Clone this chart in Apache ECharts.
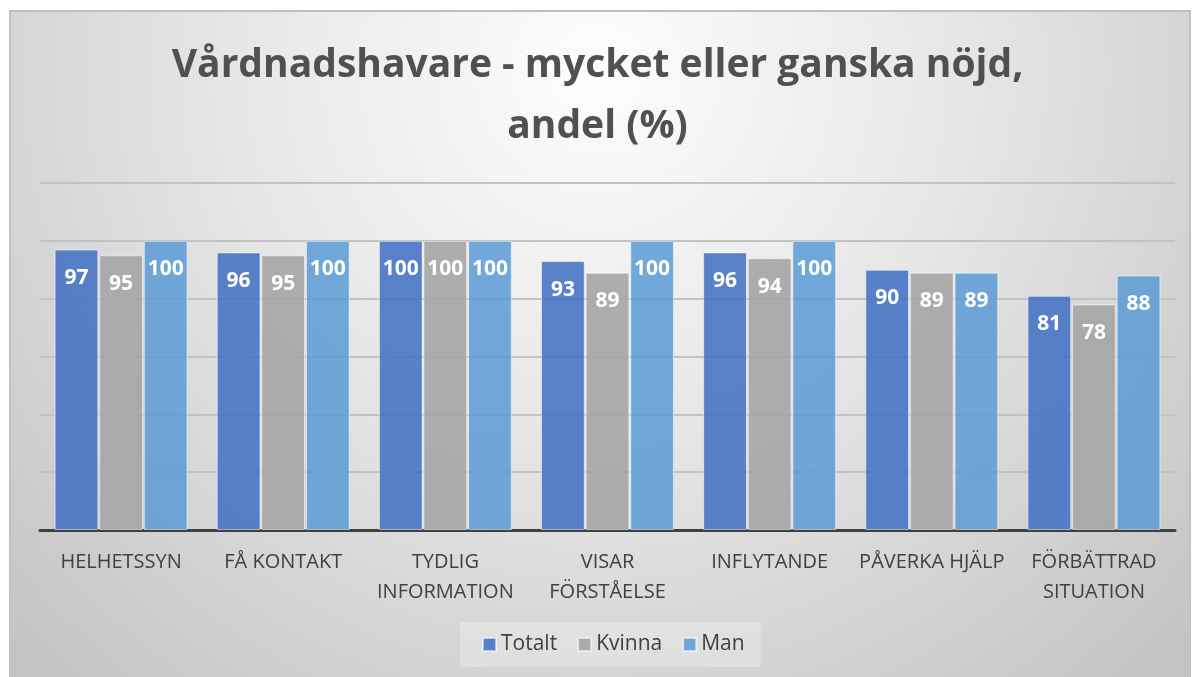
<!DOCTYPE html>
<html>
<head>
<meta charset="utf-8">
<script src="https://cdn.jsdelivr.net/npm/echarts@6/dist/echarts.min.js"></script>
<style>
  html, body { margin: 0; padding: 0; background: #fff; }
  #chart { width: 1195px; height: 677px; }
</style>
</head>
<body>
<div id="chart"></div>
<script>
// data
var categories = ['HELHETSSYN', 'FÅ KONTAKT', 'TYDLIG\nINFORMATION', 'VISAR\nFÖRSTÅELSE', 'INFLYTANDE', 'PÅVERKA HJÄLP', 'FÖRBÄTTRAD\nSITUATION'];
var totalt = [97, 96, 100, 93, 96, 90, 81];
var kvinna = [95, 95, 100, 89, 94, 89, 78];
var man = [100, 100, 100, 100, 100, 89, 88];
var seriesNames = ['Totalt', 'Kvinna', 'Man'];
var colors = ['rgba(68,114,196,0.88)', 'rgba(165,165,165,0.9)', 'rgba(91,155,213,0.85)'];

var chart = echarts.init(document.getElementById('chart'));

function bar(name, data, color) {
  return {
    name: name,
    type: 'bar',
    data: data,
    barGap: '2%',
    barCategoryGap: '18%',
    itemStyle: { color: color, borderColor: 'rgba(255,255,255,0.55)', borderWidth: 1 },
    label: {
      show: true,
      position: 'insideTop',
      distance: 18,
      color: '#fff',
      fontFamily: 'Open Sans',
      fontWeight: 'bold',
      fontSize: 21
    }
  };
}

var option = {
  animation: false,
  color: colors,
  graphic: [{
    type: 'rect',
    z: -10,
    shape: { x: 10, y: 11, width: 1180, height: 700 },
    style: {
      fill: {
        type: 'radial', x: 597, y: 70, r: 820, global: true,
        colorStops: [
          { offset: 0, color: '#fdfdfd' },
          { offset: 0.45, color: '#e6e6e6' },
          { offset: 1, color: '#c4c4c4' }
        ]
      },
      stroke: '#c0c0c0',
      lineWidth: 2
    }
  }],
  title: {
    text: 'Vårdnadshavare - mycket eller ganska nöjd,\nandel (%)',
    left: 'center',
    top: 30,
    textStyle: {
      fontFamily: 'Open Sans',
      fontWeight: 'bold',
      fontSize: 39,
      lineHeight: 61,
      color: '#505050'
    }
  },
  legend: {
    data: seriesNames,
    icon: 'rect',
    bottom: 10,
    left: 460,
    itemWidth: 13,
    itemHeight: 13,
    itemGap: 20,
    padding: [12, 16, 12, 22],
    backgroundColor: 'rgba(255,255,255,0.25)',
    textStyle: { fontFamily: 'Open Sans', fontSize: 21, color: '#404040' }
  },
  grid: { left: 40, right: 20, top: 183, bottom: 147 },
  xAxis: {
    type: 'category',
    data: categories,
    axisTick: { show: false },
    axisLine: { lineStyle: { color: '#404040', width: 3 } },
    axisLabel: {
      interval: 0,
      margin: 17,
      fontFamily: 'Open Sans',
      fontSize: 20,
      lineHeight: 30,
      color: '#404040'
    }
  },
  yAxis: {
    type: 'value',
    min: 0,
    max: 120,
    interval: 20,
    axisLabel: { show: false },
    axisLine: { show: false },
    axisTick: { show: false },
    splitLine: { lineStyle: { color: '#c2c2c2', width: 2 } }
  },
  series: [
    bar(seriesNames[0], totalt, colors[0]),
    bar(seriesNames[1], kvinna, colors[1]),
    bar(seriesNames[2], man, colors[2])
  ]
};

chart.setOption(option);
</script>
</body>
</html>
